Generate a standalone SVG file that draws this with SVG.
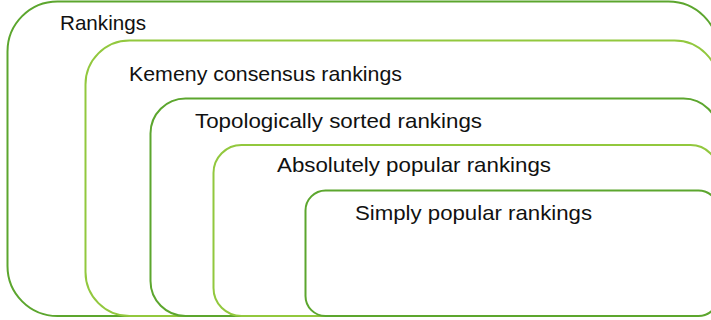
<svg xmlns="http://www.w3.org/2000/svg" width="711" height="320" viewBox="0 0 711 320">
<style>
.box{fill:#ffffff;stroke-width:2}
.dark{stroke:#5ca62e}
.light{stroke:#92c83e}
.lbl{font-family:"Liberation Sans",Arial,sans-serif;font-size:21px;fill:#111111}
</style>
<rect width="711" height="320" fill="#ffffff"/>
<g id="rankings">
<rect class="box dark" x="7.5" y="1.5" width="711" height="314.5" rx="50" ry="50"/>
<text class="lbl" x="60" y="30" textLength="86" lengthAdjust="spacingAndGlyphs">Rankings</text>
</g>
<g id="kemeny">
<rect class="box light" x="85.5" y="40.5" width="633" height="275.5" rx="44" ry="44"/>
<text class="lbl" x="129" y="81" textLength="273" lengthAdjust="spacingAndGlyphs">Kemeny consensus rankings</text>
</g>
<g id="topological">
<rect class="box dark" x="150.5" y="98.5" width="568" height="217.5" rx="35" ry="35"/>
<text class="lbl" x="195" y="128" textLength="287" lengthAdjust="spacingAndGlyphs">Topologically sorted rankings</text>
</g>
<g id="absolutely">
<rect class="box light" x="213.5" y="145" width="505" height="171" rx="28" ry="28"/>
<text class="lbl" x="277" y="172" textLength="274" lengthAdjust="spacingAndGlyphs">Absolutely popular rankings</text>
</g>
<g id="simply">
<rect class="box dark" x="305.5" y="190.5" width="413" height="125.5" rx="20" ry="20"/>
<text class="lbl" x="355" y="220" textLength="237" lengthAdjust="spacingAndGlyphs">Simply popular rankings</text>
</g>
</svg>
